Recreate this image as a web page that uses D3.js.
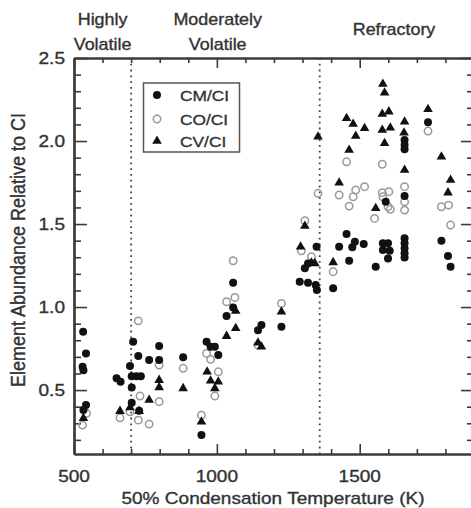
<!DOCTYPE html>
<html>
<head>
<meta charset="utf-8">
<script src="https://cdn.jsdelivr.net/npm/d3@7"></script>
<style>
  html, body { margin: 0; padding: 0; background: #fff; }
  svg { display: block; }
  text { font-family: "Liberation Sans", Arial, Helvetica, sans-serif; fill: #333; stroke: #333; stroke-width: 0.35; }
</style>
</head>
<body>
<svg id="chart" width="471" height="508"></svg>
<script>
// ---------------- data ----------------
// [50% condensation temperature (K), abundance relative to CI]
const cmData = [
  [532,0.851],[542,0.721],[530,0.640],[533,0.620],[542,0.410],[533,0.380],
  [649,0.571],[663,0.550],
  [707,0.791],[725,0.705],[696,0.645],[702,0.584],[719,0.584],[734,0.584],[702,0.516],[702,0.423],[728,0.375],
  [763,0.681],[798,0.765],[798,0.681],[882,0.697],
  [946,0.229],[964,0.791],[978,0.761],[993,0.761],[1005,0.711],
  [1057,1.146],[1057,0.998],[1034,0.946],
  [1156,0.892],[1144,0.861],[1226,0.881],
  [1349,1.363],[1319,1.263],[1308,1.233],[1290,1.152],[1319,1.146],[1346,1.133],[1350,1.102],
  [1407,1.113],[1454,1.440],[1428,1.363],[1483,1.393],[1474,1.360],[1514,1.380],[1463,1.279],
  [1581,1.384],[1599,1.384],[1581,1.343],[1605,1.339],[1599,1.293],[1556,1.243],[1591,1.634],
  [1657,2.006],[1657,1.976],[1657,1.950],[1657,1.669],[1657,1.414],[1657,1.384],[1657,1.354],[1657,1.324],[1657,1.299],
  [1739,2.113],[1786,1.399],[1809,1.307],[1818,1.243]
];
const coData = [
  [530,0.289],[544,0.360],[661,0.333],
  [725,0.917],[731,0.464],[696,0.369],[725,0.319],[763,0.295],
  [798,0.651],[798,0.430],[882,0.631],
  [946,0.349],[964,0.721],[978,0.685],[1005,0.610],[993,0.464],
  [1057,1.279],[1034,1.032],[1063,1.058],[1144,0.771],[1226,1.022],
  [1308,1.520],[1296,1.339],[1331,1.303],[1354,1.685],[1407,1.213],
  [1428,1.675],[1454,1.875],[1486,1.705],[1517,1.725],[1477,1.664],[1463,1.608],[1552,1.534],
  [1579,1.860],[1579,1.689],[1602,1.695],[1581,1.664],[1599,1.604],[1607,1.589],
  [1657,1.725],[1657,1.634],[1657,1.584],
  [1739,2.060],[1786,1.604],[1811,1.614],[1818,1.494]
];
const cvData = [
  [533,0.330],[661,0.373],[696,0.395],[728,0.373],[763,0.440],
  [798,0.560],[798,0.516],[882,0.510],
  [946,0.309],[966,0.610],[978,0.556],[1005,0.550],[993,0.510],
  [1066,0.976],[1066,0.872],[1034,0.825],[1144,0.785],[1156,0.761],[1226,0.972],
  [1308,1.488],[1293,1.363],[1331,1.267],[1343,1.263],[1354,2.026],[1407,1.269],
  [1428,1.749],[1454,2.137],[1477,2.102],[1517,2.077],[1486,2.030],[1463,1.946],
  [1581,2.343],[1587,2.291],[1579,2.163],[1602,2.177],[1579,2.066],[1607,2.080],[1587,1.986],[1556,1.595],
  [1657,2.116],[1655,2.050],[1657,1.825],
  [1739,2.191],[1786,1.905],[1818,1.765],[1809,1.689]
];
const seriesNames = ["CM/CI", "CO/CI", "CV/CI"];
const xMajor = [500, 1000, 1500];
const xTickLabels = ["500", "1000", "1500"];
const yMajor = [0.5, 1.0, 1.5, 2.0, 2.5];
const yTickLabels = ["0.5", "1.0", "1.5", "2.0", "2.5"];
const boundaries = [700, 1360];
const regionLabels = [
  { lines: ["Highly", "Volatile"], t: 600 },
  { lines: ["Moderately", "Volatile"], t: 1003 },
  { lines: ["Refractory"], t: 1620 }
];
const xTitle = "50% Condensation Temperature (K)";
const yTitle = "Element Abundance Relative to CI";

// ---------------- drawing ----------------
const svg = d3.select("#chart");
const SX = 1.12; // horizontal stretch of glyphs in the reference
const x = d3.scaleLinear().domain([500, 1900]).range([74, 474]);
const y = d3.scaleLinear().domain([0.115, 2.5]).range([454, 58]);
const axisColor = "#3a3a3a";

const xMinor = d3.range(600, 1900, 100).filter(v => !xMajor.includes(v));
const yMinor = d3.range(2, 25).map(v => v / 10).filter(v => !yMajor.some(m => Math.abs(m - v) < 1e-6));

function styleAxis(g) {
  g.selectAll("path.domain").attr("stroke", axisColor).attr("stroke-width", 2.2);
  g.selectAll(".tick line").attr("stroke", axisColor).attr("stroke-width", 1.6);
  g.selectAll(".tick text").remove();
}

// bottom
svg.append("g").attr("transform", `translate(0,${y.range()[0]})`)
  .call(d3.axisBottom(x).tickValues(xMajor).tickSize(-10).tickSizeOuter(0).tickFormat(""))
  .call(styleAxis);
svg.append("g").attr("transform", `translate(0,${y.range()[0]})`)
  .call(d3.axisBottom(x).tickValues(xMinor).tickSize(-5).tickSizeOuter(0).tickFormat(""))
  .call(styleAxis);
// top
svg.append("g").attr("transform", `translate(0,${y.range()[1]})`)
  .call(d3.axisTop(x).tickValues(xMajor).tickSize(-10).tickSizeOuter(0).tickFormat(""))
  .call(styleAxis);
svg.append("g").attr("transform", `translate(0,${y.range()[1]})`)
  .call(d3.axisTop(x).tickValues(xMinor).tickSize(-5).tickSizeOuter(0).tickFormat(""))
  .call(styleAxis);
// left
svg.append("g").attr("transform", `translate(${x.range()[0]},0)`)
  .call(d3.axisLeft(y).tickValues(yMajor).tickSize(-13).tickSizeOuter(0).tickFormat(""))
  .call(styleAxis);
svg.append("g").attr("transform", `translate(${x.range()[0]},0)`)
  .call(d3.axisLeft(y).tickValues(yMinor).tickSize(-7).tickSizeOuter(0).tickFormat(""))
  .call(styleAxis);
// right
svg.append("g").attr("transform", `translate(${x.range()[1]},0)`)
  .call(d3.axisRight(y).tickValues(yMajor).tickSize(-13).tickSizeOuter(0).tickFormat(""))
  .call(styleAxis);
svg.append("g").attr("transform", `translate(${x.range()[1]},0)`)
  .call(d3.axisRight(y).tickValues(yMinor).tickSize(-7).tickSizeOuter(0).tickFormat(""))
  .call(styleAxis);

function label(px, py, str, size, anchor, sx) {
  return svg.append("text")
    .attr("transform", `translate(${px},${py}) scale(${sx},1)`)
    .attr("text-anchor", anchor)
    .attr("font-size", size)
    .text(str);
}

// tick labels
yMajor.forEach((v, i) => label(x.range()[0] - 9, y(v) + 6, yTickLabels[i], 17, "end", SX));
xMajor.forEach((v, i) => label(x(v), 482, xTickLabels[i], 17, "middle", SX));

// axis titles
label(273, 504, xTitle, 17, "middle", SX);
svg.append("text")
  .attr("transform", `translate(25,${(y.range()[0] + y.range()[1]) / 2 - 6}) rotate(-90) scale(1,${SX})`)
  .attr("text-anchor", "middle")
  .attr("font-size", 18)
  .text(yTitle);

// region labels
regionLabels.forEach(r => {
  if (r.lines.length === 2) {
    label(x(r.t), 25, r.lines[0], 16, "middle", SX);
    label(x(r.t), 50, r.lines[1], 16, "middle", SX);
  } else {
    label(x(r.t), 35, r.lines[0], 16, "middle", SX);
  }
});

// boundary dotted lines
svg.selectAll("line.bound").data(boundaries).join("line")
  .attr("class", "bound")
  .attr("x1", d => x(d)).attr("x2", d => x(d))
  .attr("y1", y.range()[1]).attr("y2", y.range()[0])
  .attr("stroke", "#444").attr("stroke-width", 1.8)
  .attr("stroke-dasharray", "1.8,4");

// markers
const triangle = d3.symbol().type(d3.symbolTriangle).size(40);
const plot = svg.append("g");
plot.selectAll("circle.co").data(coData).join("circle")
  .attr("class", "co")
  .attr("cx", d => x(d[0])).attr("cy", d => y(d[1])).attr("r", 3.7)
  .attr("fill", "none").attr("stroke", "#999").attr("stroke-width", 1.5);
plot.selectAll("circle.cm").data(cmData).join("circle")
  .attr("class", "cm")
  .attr("cx", d => x(d[0])).attr("cy", d => y(d[1])).attr("r", 4)
  .attr("fill", "#111");
plot.selectAll("path.cv").data(cvData).join("path")
  .attr("class", "cv")
  .attr("transform", d => `translate(${x(d[0])},${y(d[1])})`)
  .attr("d", triangle)
  .attr("fill", "#111");

// legend
const lg = svg.append("g");
lg.append("rect").attr("x", 143.5).attr("y", 83).attr("width", 96).attr("height", 69)
  .attr("fill", "#fff").attr("stroke", "#555").attr("stroke-width", 1.5);
const rows = [95, 119, 141];
lg.append("circle").attr("cx", 157).attr("cy", rows[0]).attr("r", 4).attr("fill", "#111");
lg.append("circle").attr("cx", 157).attr("cy", rows[1]).attr("r", 3.7)
  .attr("fill", "none").attr("stroke", "#999").attr("stroke-width", 1.5);
lg.append("path").attr("transform", `translate(157,${rows[2]})`).attr("d", triangle).attr("fill", "#111");
seriesNames.forEach((s, i) => label(180, rows[i] + 5.5, s, 15.5, "start", SX));
</script>
</body>
</html>
